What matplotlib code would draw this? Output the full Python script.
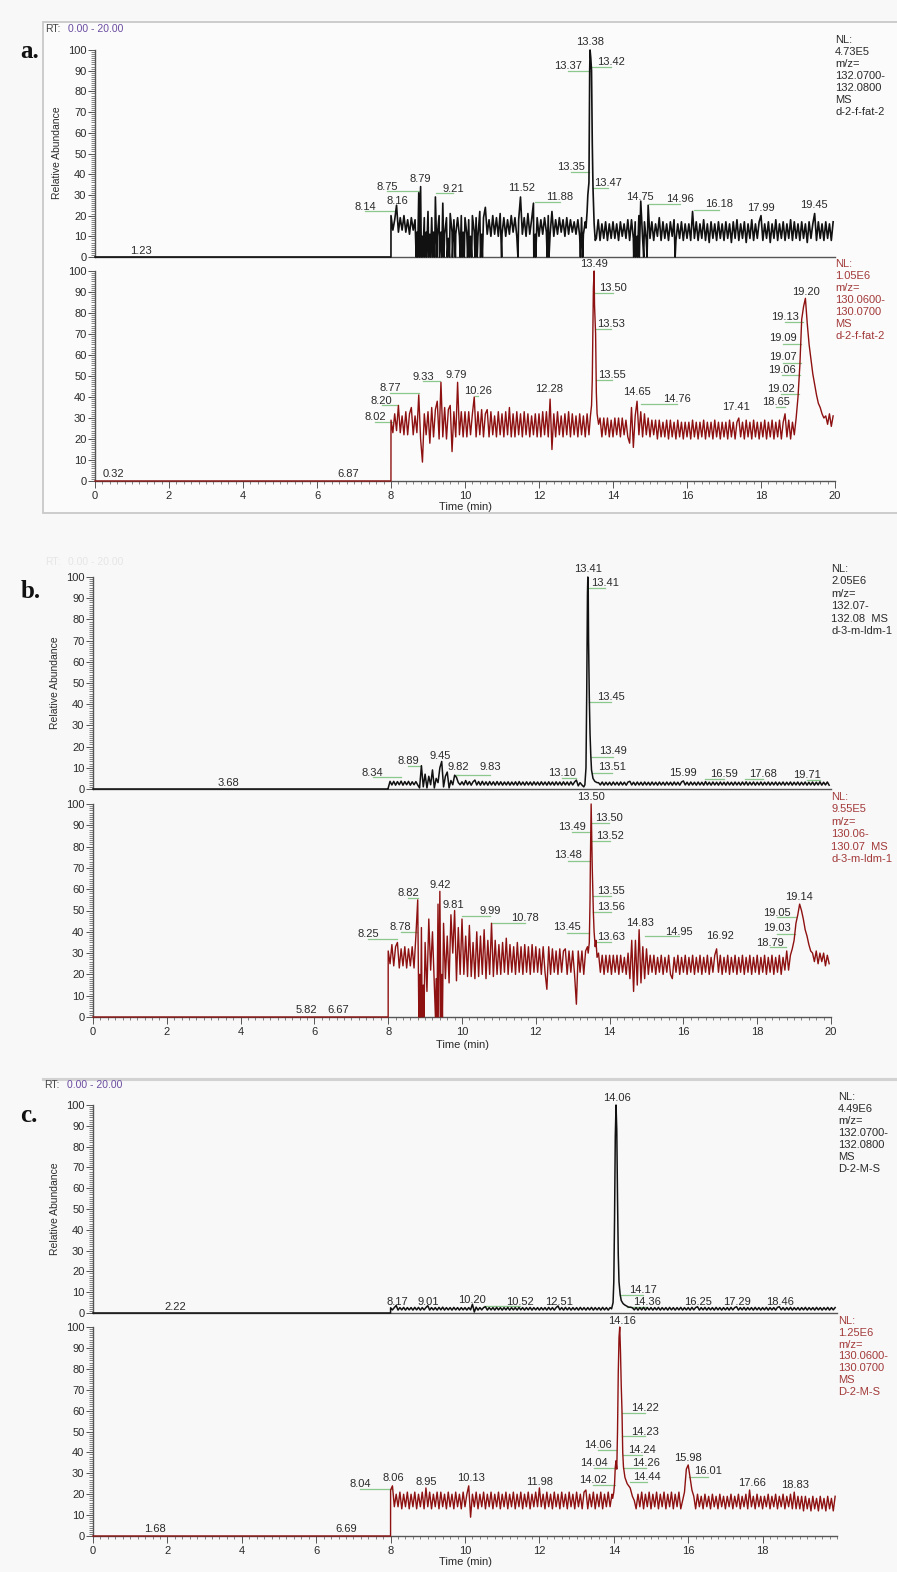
import numpy as np
import matplotlib
matplotlib.use("Agg")
import matplotlib.pyplot as plt
from matplotlib.ticker import MultipleLocator, FixedLocator
from matplotlib.lines import Line2D
from matplotlib.patches import Rectangle

plt.rcParams["font.family"] = ["Liberation Sans", "DejaVu Sans"]

W, H = 897, 1572

# digitised noise: one row per minute, sampled every 0.05 min from 8.00 min
GRID_T0, GRID_STEP = 8.0, 0.05
LEAD_T = [0.0, 7.999]     # flat start of every trace (nothing eluted before 8 min)
LEAD_Y = [0.0, 0.0]

# ---- a. top (m/z 132.07-132.08, black) ----
a_top_noise = [
    [20, 13, 18, 25, 12, 19, 13, 20, 12, 18, 11, 19, 13, 18, 12, 31, 34, 10, 19, 12],
    [22, 11, 19, 12, 29, 10, 20, 12, 26, 11, 19, 9, 21, 12, 18, 11, 19, 10, 20, 12],
    [19, 11, 18, 10, 20, 12, 19, 10, 22, 11, 19, 24, 11, 18, 10, 20, 11, 19, 10, 21],
    [11, 19, 10, 18, 11, 20, 12, 19, 10, 18, 29, 11, 19, 10, 21, 11, 18, 26, 11, 19],
    [10, 18, 11, 19, 12, 20, 11, 22, 10, 18, 11, 19, 12, 18, 10, 19, 11, 18, 12, 17],
    [11, 18, 10, 19, 11, 17, 30, 45, 100, 90, 20, 9, 18, 8, 16, 9, 17, 8, 16, 9],
    [17, 9, 16, 8, 17, 10, 16, 9, 18, 8, 18, 9, 17, 10, 20, 27, 9, 17, 8, 25],
    [9, 17, 8, 16, 10, 19, 8, 17, 9, 16, 8, 17, 10, 18, 8, 16, 9, 17, 8, 16],
    [9, 16, 8, 22, 9, 17, 8, 16, 9, 18, 8, 16, 7, 17, 9, 16, 8, 17, 9, 16],
    [8, 17, 9, 16, 7, 17, 9, 18, 8, 16, 9, 17, 7, 16, 9, 18, 8, 16, 9, 17],
    [20, 8, 16, 9, 17, 7, 16, 9, 18, 8, 16, 9, 17, 8, 16, 9, 18, 8, 17, 9],
    [16, 8, 17, 9, 16, 7, 17, 9, 16, 21, 8, 17, 9, 16, 8, 17, 9, 16, 8, 17],
]
a_top_peak_t = [13.27, 13.30, 13.32, 13.34, 13.35, 13.36, 13.37, 13.38, 13.40,
                13.42, 13.44, 13.46, 13.47, 13.49, 13.52]
a_top_peak_y = [14, 22, 30, 34, 36, 65, 90, 100, 96, 90, 55, 33, 27, 16, 8]
# single scans that drop to zero
a_top_drop_t = [8.68, 8.72, 8.77, 8.82, 8.86, 8.91, 8.96, 9.02, 9.07, 9.13, 9.18,
                9.24, 9.31, 9.37, 9.43, 9.52, 9.58, 9.66, 9.74, 9.87, 9.92, 9.98,
                10.07, 10.12, 10.18, 10.27, 10.33, 10.42, 10.47, 10.99, 11.43,
                11.86, 11.91, 12.22, 12.27, 13.12, 13.18, 14.56, 14.61, 14.66,
                14.71, 14.83, 14.92, 15.68]

# ---- a. bottom (m/z 130.06-130.07, red) ----
a_bot_noise = [
    [29, 23, 32, 24, 36, 23, 31, 22, 33, 22, 32, 35, 22, 31, 23, 41, 20, 9, 32, 22],
    [33, 18, 35, 21, 34, 38, 20, 47, 21, 35, 20, 34, 36, 14, 33, 21, 47, 22, 33, 21],
    [33, 21, 33, 22, 32, 40, 21, 33, 22, 34, 21, 32, 34, 21, 33, 22, 31, 21, 33, 22],
    [32, 21, 33, 22, 35, 21, 32, 21, 33, 22, 32, 21, 33, 22, 32, 21, 31, 22, 32, 21],
    [32, 21, 33, 22, 33, 21, 39, 15, 32, 21, 33, 22, 31, 21, 32, 22, 33, 21, 32, 22],
    [31, 21, 32, 22, 31, 21, 32, 22, 33, 60, 82, 40, 27, 30, 21, 30, 22, 30, 21, 29],
    [21, 30, 22, 30, 21, 30, 22, 29, 21, 18, 35, 16, 31, 38, 22, 33, 21, 32, 22, 30],
    [21, 29, 22, 29, 20, 29, 21, 28, 21, 29, 20, 29, 21, 28, 20, 29, 21, 28, 20, 28],
    [21, 28, 20, 29, 21, 28, 20, 28, 21, 29, 20, 28, 21, 28, 20, 29, 21, 28, 20, 28],
    [21, 28, 20, 29, 21, 28, 20, 28, 30, 21, 28, 20, 29, 21, 28, 20, 29, 21, 28, 20],
    [28, 21, 29, 20, 28, 21, 29, 20, 28, 21, 29, 20, 28, 32, 21, 29, 20, 28, 22, 30],
    [40, 55, 77, 83, 87, 75, 65, 58, 51, 46, 41, 37, 35, 32, 30, 31, 27, 32, 26, 31],
]
a_bot_peak_t = [13.39, 13.42, 13.44, 13.46, 13.47, 13.49, 13.50, 13.52, 13.53,
                13.55, 13.57, 13.61]
a_bot_peak_y = [31, 36, 48, 75, 92, 100, 84, 74, 70, 42, 32, 27]

# ---- b. top ----
b_top_noise = [
    [0.5, 3.6, 1.9, 3.6, 1.8, 3.5, 2.0, 3.7, 1.8, 3.5, 2.0, 3.6, 1.8, 3.4, 2.0, 3.5, 1.9, 0.5, 11, 1],
    [7, 0.5, 6, 2, 9, 0.5, 5, 3, 10, 13, 1, 6, 8, 0.5, 4, 2, 6.5, 5.5, 3, 2],
    [3.4, 1.9, 4.0, 2.0, 3.5, 1.8, 3.4, 4.2, 1.9, 3.5, 1.8, 3.6, 1.9, 3.4, 1.8, 3.5, 1.9, 3.4, 1.8, 3.5],
    [1.9, 3.4, 1.8, 3.3, 1.9, 3.4, 1.8, 3.3, 1.9, 3.4, 1.8, 3.5, 1.9, 3.3, 1.8, 3.4, 1.9, 3.3, 1.8, 3.4],
    [1.9, 3.3, 1.8, 3.4, 1.9, 3.3, 1.8, 3.4, 1.9, 3.3, 1.8, 3.4, 1.9, 3.3, 1.8, 3.4, 1.9, 3.3, 1.8, 3.4],
    [1.9, 3.3, 4.2, 1.5, 3.0, 1.9, 1.0, 50, 80, 30, 12, 6, 4, 3.2, 3.0, 1.9, 3.3, 1.8, 3.2, 1.9],
    [3.2, 1.8, 3.3, 1.9, 3.2, 1.8, 3.3, 1.9, 3.2, 1.8, 3.3, 3.6, 1.9, 3.2, 1.8, 3.3, 1.9, 3.2, 1.8, 3.3],
    [1.9, 3.2, 1.8, 3.3, 1.9, 3.2, 1.8, 3.3, 1.9, 3.2, 1.8, 3.3, 1.9, 3.2, 1.8, 3.3, 1.9, 3.2, 1.8, 3.3],
    [3.8, 1.9, 3.2, 1.8, 3.3, 1.9, 3.2, 1.8, 3.3, 1.9, 3.2, 1.8, 3.5, 1.9, 3.2, 1.8, 3.3, 1.9, 3.2, 1.8],
    [3.3, 1.9, 3.2, 1.8, 3.3, 1.9, 3.2, 1.8, 3.3, 1.9, 3.2, 1.8, 3.3, 1.9, 3.4, 1.8, 3.2, 1.9, 3.3, 1.8],
    [3.2, 1.9, 3.3, 1.8, 3.2, 1.9, 3.3, 1.8, 3.2, 1.9, 3.3, 1.8, 3.2, 1.9, 3.3, 1.8, 3.2, 1.9, 3.3, 1.8],
    [3.2, 1.9, 3.3, 1.8, 3.2, 1.9, 3.3, 1.8, 3.2, 1.9, 3.3, 1.8, 3.2, 1.9, 3.4, 1.8, 3.2, 1.9, 3.3, 1.8],
]
b_top_peak_t = [13.33, 13.36, 13.38, 13.40, 13.41, 13.42, 13.43, 13.45, 13.47,
                13.49, 13.51, 13.55, 13.60, 13.66]
b_top_peak_y = [2, 10, 45, 92, 100, 96, 70, 43, 26, 16, 9, 5, 3.6, 3]

# ---- b. bottom ----
b_bot_noise = [
    [31, 25, 34, 24, 33, 35, 23, 32, 24, 33, 23, 32, 24, 33, 23, 38, 55, 20, 42, 15],
    [35, 12, 46, 22, 40, 15, 18, 53, 59, 20, 44, 18, 38, 16, 48, 30, 50, 17, 42, 20],
    [46, 20, 38, 19, 43, 19, 35, 18, 40, 19, 38, 20, 41, 18, 36, 20, 44, 19, 36, 20],
    [34, 20, 35, 21, 37, 20, 34, 21, 33, 20, 35, 21, 33, 20, 34, 21, 33, 20, 34, 21],
    [33, 21, 32, 20, 33, 21, 13, 33, 20, 32, 21, 31, 20, 32, 21, 31, 32, 20, 31, 21],
    [31, 20, 6, 31, 21, 31, 20, 31, 33, 35, 100, 55, 36, 28, 30, 21, 29, 20, 29, 21],
    [29, 20, 29, 21, 29, 20, 29, 21, 28, 20, 30, 18, 36, 12, 36, 15, 41, 16, 33, 18],
    [32, 20, 29, 21, 29, 20, 28, 21, 29, 20, 28, 21, 29, 20, 18, 28, 21, 29, 20, 28],
    [21, 29, 20, 28, 21, 29, 20, 28, 21, 29, 20, 28, 21, 29, 20, 28, 21, 29, 32, 21],
    [29, 20, 28, 21, 29, 20, 28, 21, 29, 20, 28, 21, 29, 20, 28, 21, 29, 20, 28, 21],
    [29, 20, 28, 21, 29, 20, 28, 21, 29, 20, 28, 21, 29, 20, 28, 22, 31, 22, 29, 32],
    [36, 44, 48, 53, 50, 46, 41, 38, 34, 31, 30, 26, 31, 25, 30, 26, 30, 24, 29, 25],
]
b_bot_peak_t = [13.42, 13.45, 13.47, 13.48, 13.49, 13.50, 13.51, 13.52, 13.53,
                13.55, 13.56, 13.58, 13.61, 13.63, 13.66]
b_bot_peak_y = [30, 35, 55, 74, 86, 100, 90, 82, 70, 56, 49, 40, 33, 36, 28]
b_bot_drop_t = [8.83, 8.86, 8.88, 8.92, 8.97, 9.28, 9.32, 9.37, 9.43, 9.47]

# ---- c. top ----
c_top_noise = [
    [2.5, 1.5, 2.6, 3.6, 1.4, 2.6, 1.5, 2.7, 1.4, 2.6, 1.5, 2.6, 1.4, 2.7, 1.5, 2.7, 1.4, 2.6, 1.5, 2.6],
    [3.5, 1.4, 2.6, 1.5, 2.6, 1.4, 2.7, 1.5, 2.8, 1.4, 2.6, 1.5, 2.6, 1.4, 2.7, 1.5, 2.6, 1.4, 2.6, 1.5],
    [2.6, 1.4, 2.6, 1.5, 4.2, 0.5, 2.8, 1.4, 2.6, 1.5, 2.6, 3.0, 1.4, 2.6, 1.5, 2.6, 1.4, 2.7, 1.5, 2.6],
    [1.4, 2.6, 1.5, 2.7, 1.4, 2.6, 1.5, 2.6, 1.4, 2.7, 1.5, 2.6, 1.4, 2.6, 1.5, 2.7, 1.4, 2.6, 1.5, 2.6],
    [1.4, 2.6, 1.5, 2.6, 1.4, 2.7, 1.5, 2.6, 1.4, 2.6, 3.4, 1.5, 2.6, 1.4, 2.7, 1.5, 2.6, 1.4, 2.6, 1.5],
    [2.6, 1.4, 2.7, 1.5, 2.6, 1.4, 2.6, 1.5, 2.7, 1.4, 2.6, 1.5, 2.6, 1.4, 2.7, 1.5, 2.6, 1.4, 2.6, 1.5],
    [60, 95, 70, 20, 8, 5, 4, 3.5, 3, 2.8, 2.5, 1.5, 2.6, 1.4, 2.6, 1.5, 2.7, 1.4, 2.6, 1.5],
    [2.6, 1.4, 2.6, 1.5, 2.7, 1.4, 2.6, 1.5, 2.6, 1.4, 2.7, 1.5, 2.6, 1.4, 2.6, 1.5, 2.7, 1.4, 2.6, 1.5],
    [2.6, 1.4, 2.7, 1.5, 2.6, 3.0, 1.4, 2.6, 1.5, 2.7, 1.4, 2.6, 1.5, 2.6, 1.4, 2.7, 1.5, 2.6, 1.4, 2.6],
    [1.5, 2.6, 1.4, 2.7, 1.5, 2.6, 3.0, 1.4, 2.6, 1.5, 2.7, 1.4, 2.6, 1.5, 2.6, 1.4, 2.7, 1.5, 2.6, 1.4],
    [2.6, 1.5, 2.7, 1.4, 2.6, 1.5, 2.6, 1.4, 2.7, 3.0, 1.5, 2.6, 1.4, 2.6, 1.5, 2.7, 1.4, 2.6, 1.5, 2.6],
    [1.4, 2.6, 1.5, 2.7, 1.4, 2.6, 1.5, 2.6, 1.4, 2.7, 1.5, 2.6, 1.4, 2.6, 1.5, 2.7, 1.4, 2.6, 1.5, 2.6],
]
c_top_peak_t = [13.94, 13.98, 14.00, 14.02, 14.04, 14.06, 14.08, 14.10, 14.12,
                14.14, 14.17, 14.20, 14.25, 14.30, 14.36, 14.40]
c_top_peak_y = [2, 5, 15, 45, 85, 100, 88, 55, 28, 15, 9, 6, 4.5, 3.8, 3.2, 2.8]

# ---- c. bottom ----
c_bot_noise = [
    [22, 24, 14, 20, 14, 21, 13, 20, 14, 21, 13, 20, 14, 21, 13, 20, 14, 21, 13, 23],
    [14, 21, 13, 20, 14, 21, 13, 21, 14, 20, 13, 21, 14, 20, 13, 21, 14, 20, 13, 21],
    [14, 20, 24, 9, 20, 14, 21, 13, 20, 14, 21, 13, 20, 14, 21, 13, 20, 14, 21, 13],
    [20, 14, 21, 13, 20, 14, 21, 13, 20, 14, 21, 13, 20, 14, 21, 13, 20, 14, 21, 14],
    [23, 14, 20, 13, 21, 14, 20, 13, 21, 14, 20, 13, 21, 14, 20, 13, 21, 14, 20, 13],
    [21, 14, 20, 13, 21, 22, 13, 20, 14, 21, 13, 20, 14, 21, 13, 20, 14, 21, 14, 20],
    [21, 30, 36, 95, 88, 40, 30, 25, 23, 22, 20, 19, 13, 20, 14, 21, 13, 20, 14, 21],
    [13, 20, 14, 21, 13, 20, 14, 21, 13, 20, 14, 21, 13, 20, 14, 21, 13, 17, 21, 32],
    [34, 28, 22, 19, 13, 20, 14, 19, 13, 20, 14, 19, 13, 20, 14, 19, 13, 20, 14, 19],
    [13, 19, 14, 20, 13, 19, 14, 20, 13, 19, 14, 20, 13, 22, 14, 19, 13, 20, 14, 19],
    [13, 19, 14, 20, 13, 19, 14, 20, 13, 19, 14, 20, 13, 19, 14, 20, 13, 21, 13, 19],
    [13, 19, 12, 19, 13, 18, 12, 19, 13, 18, 12, 19, 13, 18, 12, 19, 13, 18, 12, 19],
]
c_bot_peak_t = [13.97, 14.00, 14.02, 14.04, 14.06, 14.08, 14.10, 14.12, 14.14, 14.16,
                14.18, 14.20, 14.22, 14.23, 14.24, 14.26, 14.30, 14.36, 14.44, 14.50, 14.55]
c_bot_peak_y = [18, 21, 25, 33, 36, 32, 50, 78, 95, 100, 88, 72, 60, 50, 40, 33, 28,
                25, 23, 19, 17]

# peak labels: (text, text time, text height, peak time for green leader or None, leader height)
a_top_labels = [
    ("1.23", 1.23, 2.9, None, 0), ("8.14", 7.30, 24.2, 8.14, 22.2),
    ("8.16", 8.16, 27.1, None, 0), ("8.75", 7.89, 33.8, 8.75, 31.9),
    ("8.79", 8.78, 37.7, None, 0), ("9.21", 9.68, 32.9, 9.21, 30.9),
    ("11.52", 11.54, 33.3, None, 0), ("11.88", 12.57, 29.0, 11.88, 26.6),
    ("13.35", 12.86, 43.5, 13.35, 41.0), ("13.37", 12.78, 92.3, 13.37, 89.9),
    ("13.38", 13.38, 103.9, None, 0), ("13.42", 13.95, 94.2, 13.42, 91.8),
    ("13.47", 13.86, 35.7, 13.47, 33.3), ("14.75", 14.73, 29.0, None, 0),
    ("14.96", 15.81, 28.0, 14.96, 25.6), ("16.18", 16.86, 25.6, 16.18, 22.7),
    ("17.99", 18.00, 23.7, None, 0), ("19.45", 19.43, 25.1, None, 0),
]
a_bot_labels = [
    ("0.32", 0.50, 3.3, None, 0), ("6.87", 6.85, 3.3, None, 0),
    ("8.02", 7.57, 30.3, 8.02, 28.0), ("8.20", 7.75, 38.3, 8.20, 36.2),
    ("8.77", 7.97, 44.4, 8.77, 42.0), ("9.33", 8.87, 49.7, 9.33, 47.6),
    ("9.79", 9.77, 50.5, None, 0), ("10.26", 10.36, 42.9, 10.26, 40.5),
    ("12.28", 12.28, 43.7, None, 0), ("13.49", 13.49, 103.3, None, 0),
    ("13.50", 13.99, 92.0, 13.50, 89.7), ("13.53", 13.94, 74.8, 13.53, 72.2),
    ("13.55", 13.96, 50.5, 13.55, 48.1), ("14.65", 14.66, 42.5, None, 0),
    ("14.76", 15.72, 38.9, 14.76, 36.7), ("17.41", 17.32, 35.1, None, 0),
    ("18.65", 18.41, 37.8, 18.65, 35.1), ("19.02", 18.53, 43.8, 19.02, 41.4),
    ("19.06", 18.56, 52.9, 19.06, 50.5), ("19.07", 18.59, 58.9, 19.07, 56.3),
    ("19.09", 18.60, 68.0, 19.09, 65.2), ("19.13", 18.65, 78.2, 19.13, 75.9),
    ("19.20", 19.21, 90.1, None, 0),
]
b_top_labels = [
    ("3.68", 3.67, 2.7, None, 0), ("8.34", 7.58, 7.7, 8.34, 5.5),
    ("8.89", 8.55, 13.4, 8.89, 10.8), ("9.45", 9.40, 15.6, None, 0),
    ("9.82", 9.90, 10.2, 9.82, 6.6), ("9.83", 10.76, 10.2, 9.83, 6.6),
    ("13.10", 12.70, 7.7, 13.10, 5.0), ("13.41", 13.41, 103.6, None, 0),
    ("13.41", 13.88, 97.3, 13.41, 95.0), ("13.45", 14.03, 43.5, 13.45, 41.2),
    ("13.49", 14.08, 17.9, 13.49, 15.2), ("13.51", 14.06, 10.2, 13.51, 7.7),
    ("15.99", 16.00, 7.4, None, 0), ("16.59", 17.10, 6.9, 16.59, 4.6),
    ("17.68", 18.17, 6.9, 17.68, 4.6), ("19.71", 19.34, 6.6, 19.71, 4.2),
]
b_bot_labels = [
    ("5.82", 5.79, 3.3, None, 0), ("6.67", 6.65, 3.3, None, 0),
    ("8.25", 7.46, 39.0, 8.25, 36.6), ("8.78", 8.34, 42.4, 8.78, 40.0),
    ("8.82", 8.55, 58.0, 8.82, 56.0), ("9.42", 9.40, 62.0, None, 0),
    ("9.81", 9.76, 52.6, None, 0), ("9.99", 10.76, 49.8, 9.99, 47.4),
    ("10.78", 11.71, 46.3, 10.78, 44.0), ("13.45", 12.84, 42.4, 13.45, 39.6),
    ("13.50", 13.49, 103.4, None, 0), ("13.49", 12.97, 89.3, 13.49, 87.0),
    ("13.50", 13.99, 93.6, 13.50, 91.2), ("13.52", 14.00, 85.1, 13.52, 82.6),
    ("13.48", 12.88, 76.0, 13.48, 73.4), ("13.55", 14.03, 59.2, 13.55, 56.8),
    ("13.56", 14.03, 51.8, 13.56, 49.4), ("13.63", 14.03, 37.7, 13.63, 35.0),
    ("14.83", 14.82, 44.0, None, 0), ("14.95", 15.89, 40.0, 14.95, 38.2),
    ("16.92", 17.00, 38.0, None, 0), ("18.79", 18.35, 34.9, 18.79, 32.7),
    ("19.03", 18.53, 41.6, 19.03, 39.0), ("19.05", 18.53, 49.0, 19.05, 47.0),
    ("19.14", 19.14, 56.2, None, 0),
]
c_top_labels = [
    ("2.22", 2.20, 3.0, None, 0), ("8.17", 8.17, 5.3, None, 0),
    ("9.01", 9.00, 5.3, None, 0), ("10.20", 10.20, 6.3, None, 0),
    ("10.52", 11.48, 5.4, 10.52, 3.4), ("12.51", 12.53, 5.4, None, 0),
    ("14.06", 14.08, 103.5, None, 0), ("14.17", 14.79, 11.0, 14.17, 8.6),
    ("14.36", 14.88, 5.4, 14.36, 2.9), ("16.25", 16.27, 5.4, None, 0),
    ("17.29", 17.30, 5.4, None, 0), ("18.46", 18.48, 5.4, None, 0),
]
c_bot_labels = [
    ("1.68", 1.67, 3.2, None, 0), ("6.69", 6.80, 3.2, None, 0),
    ("8.04", 7.18, 24.7, 8.04, 22.3), ("8.06", 8.06, 27.6, None, 0),
    ("8.95", 8.95, 26.0, None, 0), ("10.13", 10.15, 27.6, None, 0),
    ("11.98", 12.00, 26.0, None, 0), ("14.02", 13.45, 26.8, 14.02, 24.4),
    ("14.04", 13.47, 34.8, 14.04, 32.5), ("14.06", 13.58, 43.5, 14.06, 41.0),
    ("14.16", 14.21, 103.0, None, 0), ("14.22", 14.84, 61.4, 14.22, 58.7),
    ("14.23", 14.84, 49.9, 14.23, 47.8), ("14.24", 14.75, 41.1, 14.24, 38.8),
    ("14.26", 14.87, 34.8, 14.26, 32.4), ("14.44", 14.88, 28.4, 14.44, 26.0),
    ("15.98", 16.00, 37.2, None, 0), ("16.01", 16.54, 31.2, 16.01, 28.4),
    ("17.66", 17.71, 25.5, None, 0), ("18.83", 18.87, 24.4, None, 0),
]

a_top_info = ["NL:", "4.73E5", "m/z=", "132.0700-", "132.0800", "MS", "d-2-f-fat-2"]
a_bot_info = ["NL:", "1.05E6", "m/z=", "130.0600-", "130.0700", "MS", "d-2-f-fat-2"]
b_top_info = ["NL:", "2.05E6", "m/z=", "132.07-", "132.08  MS", "d-3-m-ldm-1"]
b_bot_info = ["NL:", "9.55E5", "m/z=", "130.06-", "130.07  MS", "d-3-m-ldm-1"]
c_top_info = ["NL:", "4.49E6", "m/z=", "132.0700-", "132.0800", "MS", "D-2-M-S"]
c_bot_info = ["NL:", "1.25E6", "m/z=", "130.0600-", "130.0700", "MS", "D-2-M-S"]

BLACK = "#111111"
RED = "#8e1111"
GREEN = "#8cc88c"
TXT = "#2a2a2a"
AXC = "#555555"
INFO_RED = "#a33a3a"


def build_trace(rows, peak_t, peak_y, drop_t=()):
    noise = np.array([v for r in rows for v in r], dtype=float)
    t = GRID_T0 + GRID_STEP * np.arange(len(noise))
    keep = (t < peak_t[0] - 1e-6) | (t > peak_t[-1] + 1e-6)
    tt = np.concatenate([LEAD_T, t[keep], peak_t, drop_t])
    yy = np.concatenate([LEAD_Y, noise[keep], peak_y, np.zeros(len(drop_t))])
    order = np.argsort(tt, kind="stable")
    return tt[order], yy[order]


fig = plt.figure(figsize=(W / 100, H / 100), dpi=100)
fig.patch.set_facecolor("#f8f8f8")


def fx(px):
    return px / W


def fy(py):
    return 1 - py / H


def add_axes(x0, x20, y100, y0, bottom_axis, xmax_tick=20):
    ax = fig.add_axes([fx(x0), fy(y0), (x20 - x0) / W, (y0 - y100) / H])
    ax.set_facecolor("none")
    ax.set_xlim(0, 20)
    ax.set_ylim(0, 100)
    for s in ("top", "right"):
        ax.spines[s].set_visible(False)
    for s in ("left", "bottom"):
        ax.spines[s].set_color(AXC)
        ax.spines[s].set_linewidth(1.0)
    ax.yaxis.set_major_locator(MultipleLocator(10))
    ax.yaxis.set_minor_locator(MultipleLocator(1))
    ax.tick_params(axis="y", which="major", direction="out", length=5, width=0.7,
                   color=AXC, labelsize=8, labelcolor=TXT, pad=1.2)
    ax.tick_params(axis="y", which="minor", direction="out", length=3, width=0.5,
                   color=AXC)
    if bottom_axis:
        ax.xaxis.set_major_locator(FixedLocator(np.arange(0, xmax_tick + 0.1, 2)))
        ax.xaxis.set_minor_locator(MultipleLocator(0.2))
        ax.tick_params(axis="x", which="major", direction="out", length=5, width=0.7,
                       color=AXC, labelsize=8, labelcolor=TXT, pad=2)
        ax.tick_params(axis="x", which="minor", direction="out", length=2.5,
                       width=0.5, color=AXC)
    else:
        ax.set_xticks([])
    return ax


def draw(ax, rows, pt, py, color, labels, drop_t=(), lw=1.0):
    t, y = build_trace(rows, pt, py, drop_t)
    ax.plot(t, y, color=color, lw=lw, clip_on=False, zorder=3)
    for text, tx, ty, lead_t, lead_y in labels:
        ax.text(tx, ty, text, ha="center", va="center", fontsize=8, color=TXT,
                clip_on=False, zorder=4)
        if lead_t is not None:
            ax.add_line(Line2D([lead_t, tx], [lead_y, lead_y], color=GREEN,
                               lw=0.9, clip_on=False, zorder=2))


def info(lines, x, y0, dy, color):
    for i, s in enumerate(lines):
        fig.text(fx(x), fy(y0 + i * dy), s, ha="left", va="center",
                 fontsize=8, color=color)


def ylabel(x, yc):
    fig.text(fx(x), fy(yc), "Relative Abundance", rotation=90, ha="center",
             va="center", fontsize=7.5, color=TXT)


def rt_header(x, y, faint=False):
    c1, c2 = ("#e6e6e6", "#e6e6e6") if faint else ("#444444", "#6a4ca0")
    fig.text(fx(x), fy(y), "RT:", ha="left", va="center", fontsize=7.5, color=c1)
    fig.text(fx(x + 23), fy(y), "0.00 - 20.00", ha="left", va="center",
             fontsize=7.5, color=c2)


def panel_letter(s, x, y):
    fig.text(fx(x), fy(y), s, ha="center", va="center", fontsize=18,
             fontweight="bold", family=["Liberation Serif", "DejaVu Serif"],
             color="#111111")


# frame of panel a and top edge of panel c
fig.add_artist(Rectangle((fx(43), fy(513)), (910 - 43) / W, (513 - 22) / H,
                         transform=fig.transFigure, fill=True, facecolor="#fbfbfb",
                         edgecolor="#c9c9c9", lw=1.3, zorder=0))
fig.add_artist(Line2D([fx(43), fx(897)], [fy(1079), fy(1079)],
                      transform=fig.transFigure, color="#d2d2d2", lw=2.2))

# ---- panel a ----
rt_header(45, 29)
panel_letter("a.", 30, 51)
ax = add_axes(95, 835, 50, 257, False)
draw(ax, a_top_noise, a_top_peak_t, a_top_peak_y, BLACK, a_top_labels,
     a_top_drop_t, lw=1.2)
ax = add_axes(95, 835, 271, 481, True)
draw(ax, a_bot_noise, a_bot_peak_t, a_bot_peak_y, RED, a_bot_labels)
ylabel(57, 153)
info(a_top_info, 835, 40, 12, TXT)
info(a_bot_info, 835, 264, 12, INFO_RED)
fig.text(fx(465), fy(507), "Time (min)", ha="center", va="center", fontsize=8,
         color=TXT)

# ---- panel b ----
rt_header(45, 562, faint=True)
panel_letter("b.", 31, 592)
ax = add_axes(93, 831, 577, 789, False)
draw(ax, b_top_noise, b_top_peak_t, b_top_peak_y, BLACK, b_top_labels, lw=1.1)
ax = add_axes(93, 831, 804, 1017, True)
draw(ax, b_bot_noise, b_bot_peak_t, b_bot_peak_y, RED, b_bot_labels, b_bot_drop_t)
ylabel(55, 683)
info(b_top_info, 831, 569, 12.4, TXT)
info(b_bot_info, 831, 797, 12.4, INFO_RED)
fig.text(fx(463), fy(1045), "Time (min)", ha="center", va="center", fontsize=8,
         color=TXT)

# ---- panel c ----
rt_header(44, 1085)
panel_letter("c.", 29, 1116)
ax = add_axes(93, 837, 1105, 1313, False)
draw(ax, c_top_noise, c_top_peak_t, c_top_peak_y, BLACK, c_top_labels, lw=1.1)
ax = add_axes(93, 837, 1327, 1536, True, xmax_tick=18)
draw(ax, c_bot_noise, c_bot_peak_t, c_bot_peak_y, RED, c_bot_labels)
ylabel(55, 1209)
info(c_top_info, 838, 1097, 12, TXT)
info(c_bot_info, 838, 1321, 11.8, INFO_RED)
fig.text(fx(465), fy(1562), "Time (min)", ha="center", va="center", fontsize=8,
         color=TXT)

fig.savefig("out.png", dpi=100, facecolor=fig.get_facecolor())
